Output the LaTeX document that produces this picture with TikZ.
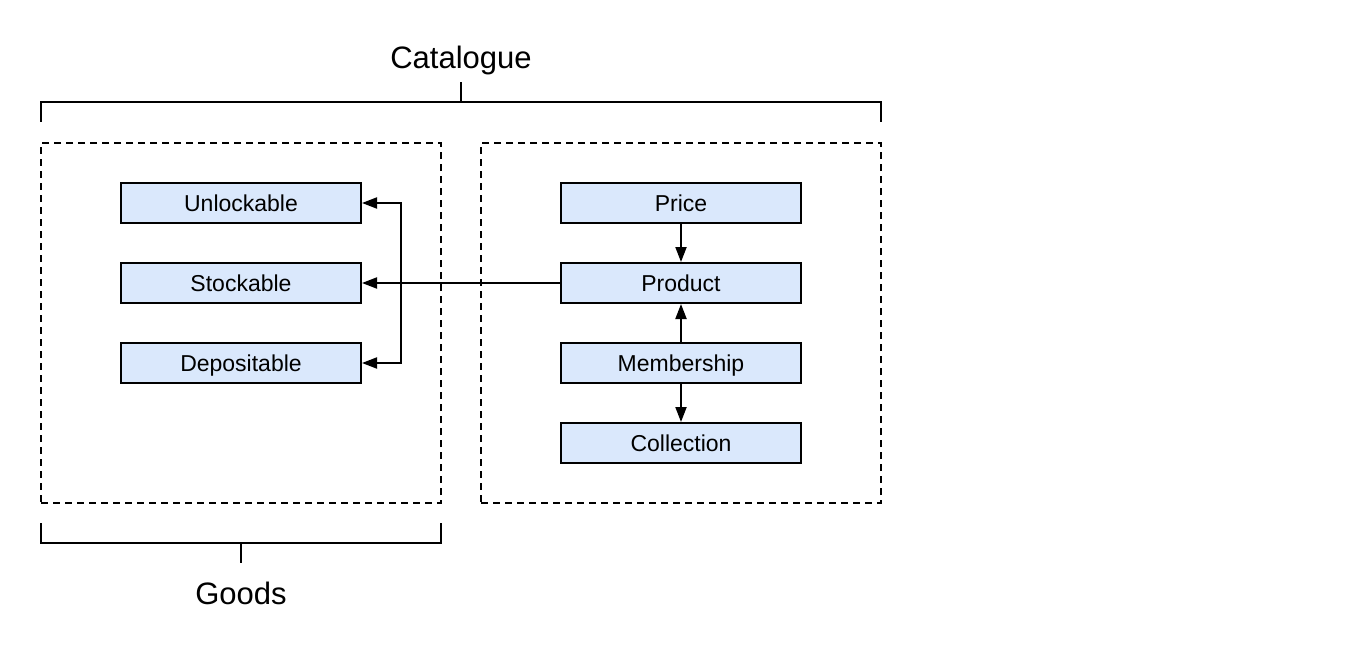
\documentclass[tikz,border=0pt]{standalone}
\usepackage{fontspec}
\setmainfont{Liberation Sans}
\usetikzlibrary{arrows.meta}
\definecolor{boxfill}{HTML}{DAE8FC}
\tikzset{
  every picture/.style={x=1pt,y=-1pt},
  entity/.style={draw=black, line width=2pt, fill=boxfill, rectangle,
    minimum width=240pt, minimum height=40pt, inner sep=0pt,
    text height=17pt, text depth=0pt,
    font=\fontsize{23}{28}\selectfont},
  group/.style={draw=black, line width=2pt, dash pattern=on 7pt off 5pt,
    rectangle, minimum width=400pt, minimum height=360pt, inner sep=0pt},
  conn/.style={line width=2pt, -{Triangle[length=15pt,width=11pt]}},
  plain/.style={line width=2pt},
  bracketlabel/.style={font=\fontsize{31}{36}\selectfont, inner sep=0pt,
    text height=22pt, text depth=0pt},
}
\begin{document}
\begin{tikzpicture}
\useasboundingbox (0,0) rectangle (1364,650);
\fill[white] (0,0) rectangle (1364,650);

% groups
\node[group] (goodsgrp) at (241,323) {};
\node[group] (catgrp) at (681,323) {};

% catalogue bracket
\coordinate (cl) at (41,122);
\coordinate (cr) at (881,122);
\coordinate (cm) at (461,102);
\coordinate (ct) at (461,82);
\draw[plain] (cl) |- (cr |- cm) -- (cr);
\draw[plain] (cm) -- (ct);
\node[bracketlabel] (catlabel) at (461,58) {Catalogue};

% goods bracket
\coordinate (gl) at (41,523);
\coordinate (gr) at (441,523);
\coordinate (gm) at (241,543);
\coordinate (gb) at (241,563);
\draw[plain] (gl) |- (gr |- gm) -- (gr);
\draw[plain] (gm) -- (gb);
\node[bracketlabel] (goodslabel) at (241,593) {Goods};

% entities left
\node[entity] (unlock) at (241,203) {Unlockable};
\node[entity] (stock) at (241,283) {Stockable};
\node[entity] (depos) at (241,363) {Depositable};

% entities right
\node[entity] (price) at (681,203) {Price};
\node[entity] (product) at (681,283) {Product};
\node[entity] (member) at (681,363) {Membership};
\node[entity] (collect) at (681,443) {Collection};

% connectors
\coordinate (junc) at (401,283);
\draw[conn] (product.west) -- (stock.east);
\draw[conn] (junc) |- (unlock.east);
\draw[conn] (junc) |- (depos.east);
\draw[conn] (price.south) -- (product.north);
\draw[conn] (member.north) -- (product.south);
\draw[conn] (member.south) -- (collect.north);
\end{tikzpicture}
\end{document}
